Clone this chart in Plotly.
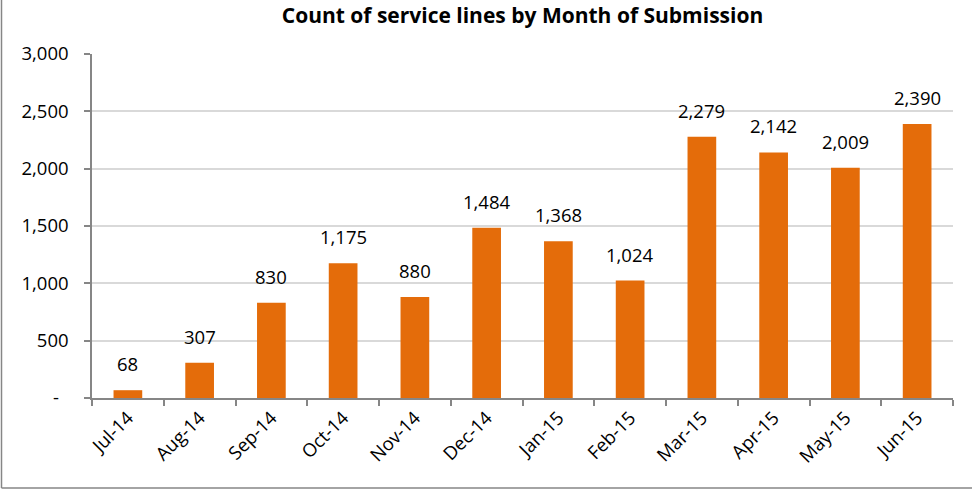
import plotly.graph_objects as go

months = ["Jul-14", "Aug-14", "Sep-14", "Oct-14", "Nov-14", "Dec-14",
          "Jan-15", "Feb-15", "Mar-15", "Apr-15", "May-15", "Jun-15"]
counts = [68, 307, 830, 1175, 880, 1484, 1368, 1024, 2279, 2142, 2009, 2390]
y_tick_vals = [0, 500, 1000, 1500, 2000, 2500, 3000]
y_tick_text = ["-\u00a0\u00a0", "500", "1,000", "1,500", "2,000", "2,500", "3,000"]
title_text = "Count of service lines by Month of Submission"

FONT = "Open Sans, Lato, sans-serif"
BAR = "#E46C0A"
AXIS = "#868686"
GRID = "#D9D9D9"
FS = 18.5

fig = go.Figure(go.Bar(
    x=months, y=counts,
    marker=dict(color=BAR, line=dict(width=0)),
    cliponaxis=False,
    hoverinfo="skip",
))

# data labels placed through the axis scales
for m, v in zip(months, counts):
    fig.add_annotation(x=m, y=v, xref="x", yref="y", text=f"{v:,}",
                       showarrow=False, yanchor="bottom", xanchor="center",
                       yshift=12, font=dict(family=FONT, size=FS, color="#000000"))

W, H = 972, 490
L, R, T, B = 92, 19, 54, 92
pw, ph = W - L - R, H - T - B

def px_x(p):
    return (p - L) / pw

def px_y(p):
    return (H - B - p) / ph

fig.update_layout(
    width=W, height=H,
    margin=dict(l=L, r=R, t=T, b=B, pad=0, autoexpand=False),
    paper_bgcolor="white", plot_bgcolor="white",
    bargap=0.6,
    showlegend=False,
    title=dict(text=f"<b>{title_text}</b>", x=0.5, xref="paper", xanchor="center",
               y=1 - 16 / H, yanchor="middle",
               font=dict(family=FONT, size=21, color="#000000")),
    font=dict(family=FONT, size=FS, color="#000000"),
    xaxis=dict(
        type="category", tickangle=-45, automargin=False,
        showline=True, linecolor=AXIS, linewidth=1.5,
        ticks="outside", ticklen=6, tickcolor=AXIS, tickwidth=1.5,
        tickson="boundaries", showgrid=False,
        tickfont=dict(family=FONT, size=FS, color="#000000"),
    ),
    yaxis=dict(
        range=[0, 3000], tickvals=y_tick_vals, ticktext=y_tick_text,
        automargin=False,
        showline=True, linecolor=AXIS, linewidth=1.5,
        ticks="outside", ticklen=6, tickcolor=AXIS, tickwidth=1.5,
        showgrid=True, gridcolor=GRID, gridwidth=1.5,
        zeroline=False, ticklabelstandoff=12,
        tickfont=dict(family=FONT, size=FS, color="#000000"),
    ),
    shapes=[
        dict(type="line", xref="paper", yref="paper",
             x0=px_x(1.5), x1=px_x(1.5), y0=px_y(0), y1=px_y(488),
             line=dict(color=AXIS, width=1.5)),
        dict(type="line", xref="paper", yref="paper",
             x0=px_x(1.5), x1=px_x(972), y0=px_y(488), y1=px_y(488),
             line=dict(color=AXIS, width=1.5)),
    ],
)

fig.write_html("out.html",
               config={"displayModeBar": False},
               post_script="document.body.style.margin='0';document.body.style.overflow='hidden';")
